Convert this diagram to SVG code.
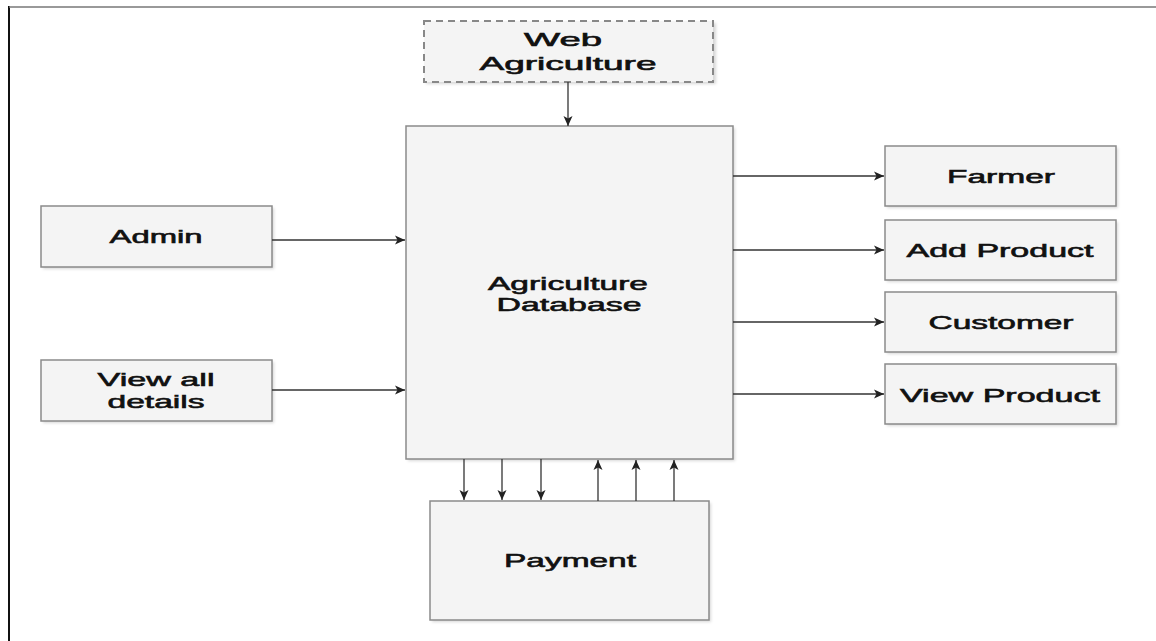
<svg xmlns="http://www.w3.org/2000/svg" width="1156" height="641" viewBox="0 0 1156 641">
<style>
.box{fill:#f4f4f4;stroke:#8a8a8a;stroke-width:1.5}
.sh{fill:#d8d8d8}
.lbl{font-family:"Liberation Sans",Arial,sans-serif;font-weight:normal;font-size:19px;fill:#111;stroke:#111;stroke-width:0.6;text-anchor:middle}
.con{stroke:#333;stroke-width:1.3;fill:none}
</style>
<defs>
<marker id="ah" viewBox="0 0 10 10" refX="10" refY="5" markerWidth="10" markerHeight="10" markerUnits="userSpaceOnUse" orient="auto">
<path d="M0,0.5 L10,5 L0,9.5 L2.5,5 z" fill="#222"/>
</marker>
<filter id="blur" x="-5%" y="-5%" width="110%" height="115%"><feGaussianBlur stdDeviation="1.5"/></filter>
</defs>
<rect width="1156" height="641" fill="#fff"/>
<line x1="9" y1="6" x2="9" y2="641" stroke="#111" stroke-width="2"/>
<line x1="9" y1="7" x2="1156" y2="7" stroke="#777" stroke-width="1.5"/>

<g id="web">
<rect x="426" y="23" width="290" height="61" class="sh" filter="url(#blur)"/>
<rect x="424" y="21" width="289" height="61" fill="#f4f4f4" stroke="#888" stroke-width="2" stroke-dasharray="7,5"/>
<text class="lbl" x="563" y="46" font-size="20" textLength="78" lengthAdjust="spacingAndGlyphs">Web</text>
<text class="lbl" x="568" y="70" font-size="20" textLength="177" lengthAdjust="spacingAndGlyphs">Agriculture</text>
</g>

<g id="database">
<rect x="408" y="128" width="327" height="333" class="sh" filter="url(#blur)"/>
<rect x="406" y="126" width="327" height="333" class="box"/>
<text class="lbl" x="568" y="290" textLength="160" lengthAdjust="spacingAndGlyphs">Agriculture</text>
<text class="lbl" x="569" y="311" textLength="145" lengthAdjust="spacingAndGlyphs">Database</text>
</g>

<g id="admin">
<rect x="43" y="208" width="231" height="61" class="sh" filter="url(#blur)"/>
<rect x="41" y="206" width="231" height="61" class="box"/>
<text class="lbl" x="156" y="243" textLength="93" lengthAdjust="spacingAndGlyphs">Admin</text>
</g>

<g id="viewall">
<rect x="43" y="362" width="231" height="61" class="sh" filter="url(#blur)"/>
<rect x="41" y="360" width="231" height="61" class="box"/>
<text class="lbl" x="156" y="386" textLength="117" lengthAdjust="spacingAndGlyphs">View all</text>
<text class="lbl" x="156" y="408" textLength="97" lengthAdjust="spacingAndGlyphs">details</text>
</g>

<g id="farmer">
<rect x="887" y="148" width="231" height="60" class="sh" filter="url(#blur)"/>
<rect x="885" y="146" width="231" height="60" class="box"/>
<text class="lbl" x="1001" y="183" textLength="108" lengthAdjust="spacingAndGlyphs">Farmer</text>
</g>

<g id="addproduct">
<rect x="887" y="222" width="231" height="60" class="sh" filter="url(#blur)"/>
<rect x="885" y="220" width="231" height="60" class="box"/>
<text class="lbl" x="1000" y="257" textLength="187" lengthAdjust="spacingAndGlyphs">Add Product</text>
</g>

<g id="customer">
<rect x="887" y="294" width="231" height="60" class="sh" filter="url(#blur)"/>
<rect x="885" y="292" width="231" height="60" class="box"/>
<text class="lbl" x="1001" y="329" textLength="145" lengthAdjust="spacingAndGlyphs">Customer</text>
</g>

<g id="viewproduct">
<rect x="887" y="366" width="231" height="60" class="sh" filter="url(#blur)"/>
<rect x="885" y="364" width="231" height="60" class="box"/>
<text class="lbl" x="1000" y="402" textLength="200" lengthAdjust="spacingAndGlyphs">View Product</text>
</g>

<g id="payment">
<rect x="432" y="503" width="279" height="119" class="sh" filter="url(#blur)"/>
<rect x="430" y="501" width="279" height="119" class="box"/>
<text class="lbl" x="570" y="567" textLength="132" lengthAdjust="spacingAndGlyphs">Payment</text>
</g>

<g id="connectors">
<line class="con" x1="568" y1="82" x2="568" y2="126" marker-end="url(#ah)"/>
<line class="con" x1="272" y1="240" x2="405" y2="240" marker-end="url(#ah)"/>
<line class="con" x1="272" y1="390" x2="405" y2="390" marker-end="url(#ah)"/>
<line class="con" x1="733" y1="176" x2="884" y2="176" marker-end="url(#ah)"/>
<line class="con" x1="733" y1="250" x2="884" y2="250" marker-end="url(#ah)"/>
<line class="con" x1="733" y1="322" x2="884" y2="322" marker-end="url(#ah)"/>
<line class="con" x1="733" y1="394" x2="884" y2="394" marker-end="url(#ah)"/>
<line class="con" x1="464" y1="459" x2="464" y2="500" marker-end="url(#ah)"/>
<line class="con" x1="502" y1="459" x2="502" y2="500" marker-end="url(#ah)"/>
<line class="con" x1="541" y1="459" x2="541" y2="500" marker-end="url(#ah)"/>
<line class="con" x1="598" y1="501" x2="598" y2="460" marker-end="url(#ah)"/>
<line class="con" x1="636" y1="501" x2="636" y2="460" marker-end="url(#ah)"/>
<line class="con" x1="674" y1="501" x2="674" y2="460" marker-end="url(#ah)"/>
</g>
</svg>
